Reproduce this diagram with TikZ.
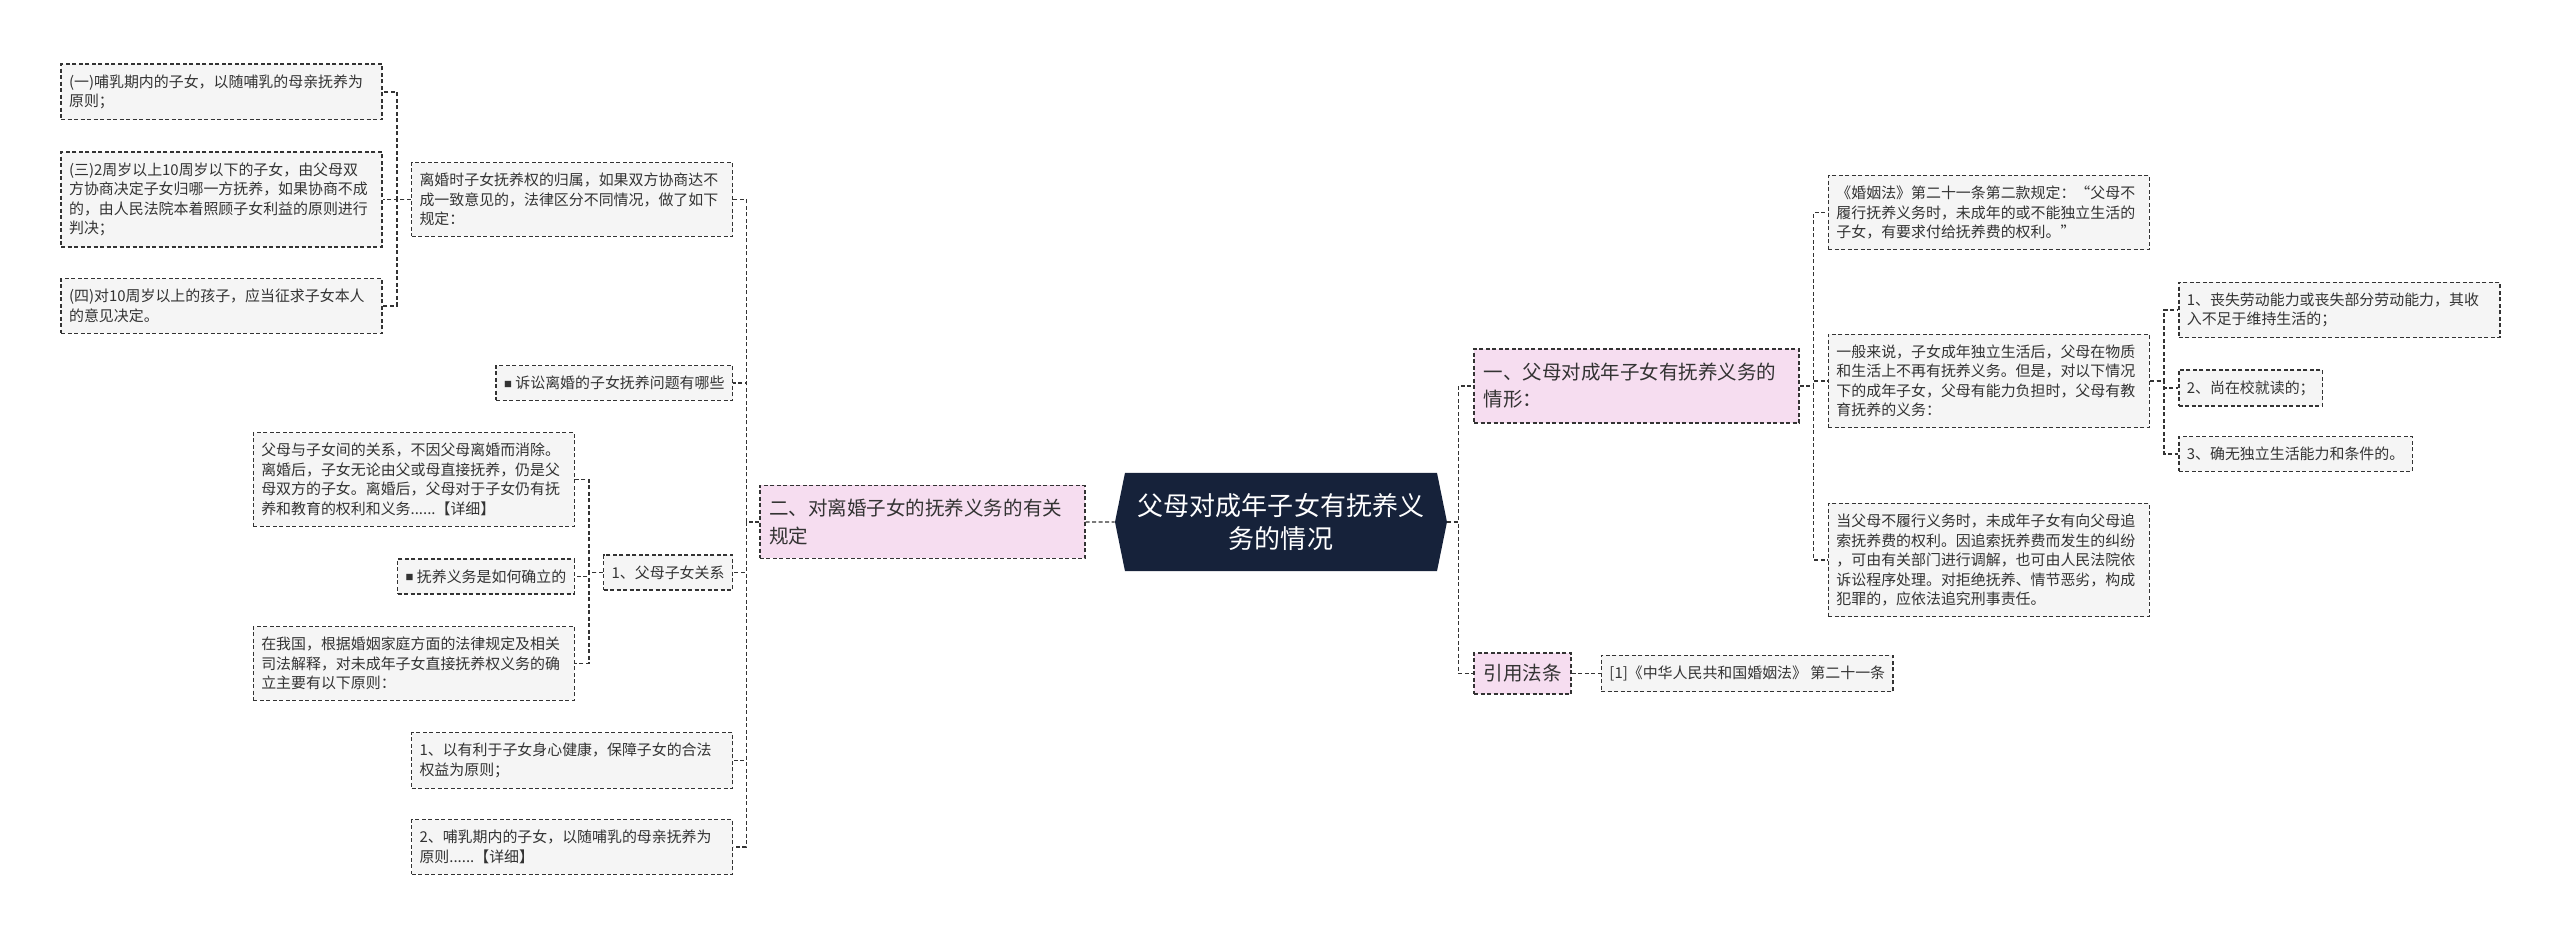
\documentclass[tikz,border=0pt]{standalone}
\usepackage{fontspec}
\setmainfont{Noto Sans CJK SC}
\usepackage{xcolor}
\usetikzlibrary{positioning,shapes.symbols}
\definecolor{mnavy}{HTML}{16223A}
\definecolor{mpink}{HTML}{F6DDF0}
\definecolor{mgray}{HTML}{F5F5F5}
\definecolor{mline}{HTML}{333333}
\newcommand{\sqmark}{\raisebox{0.1em}{\fontsize{4.5pt}{4.5pt}\selectfont ■}}

\begin{document}
\begin{tikzpicture}[
  font=\fontsize{8.5pt}{11.1pt}\selectfont,
  leaf/.style={draw=mline, fill=mgray, line width=0.28mm, dash pattern=on 0.8mm off 0.5mm,
    align=left, inner xsep=1.6mm, inner ysep=2.1mm, text=mline},
  wide/.style={leaf, text width=61mm},
  topic/.style={leaf, fill=mpink, font=\fontsize{11.1pt}{15.4pt}\selectfont, inner xsep=1.9mm},
  root/.style={shape=signal, signal to=east and west, signal pointer angle=157, fill=mnavy,
    text=white, align=center, font=\fontsize{14.8pt}{18.5pt}\selectfont,
    minimum width=66.4mm, minimum height=19.6mm, inner sep=0pt},
  conn/.style={draw=mline, line width=0.28mm, dash pattern=on 0.8mm off 0.5mm},
]
\useasboundingbox (-256.2mm,-83.8mm) rectangle (255.8mm,104.4mm);
\node[root] (root) {父母对成年子女有抚养义\\务的情况};
% right half
\node[topic, right=5.2mm of root, yshift=27.2mm, text width=61.2mm, minimum height=14.8mm] (adult)
  {一、父母对成年子女有抚养义务的\\情形：};
\node[topic, right=5.2mm of root, yshift=-30.3mm, minimum height=8.2mm] (cite) {引用法条};
\node[leaf, right=5.8mm of cite] (law) {[1]《中华人民共和国婚姻法》 第二十一条};
\node[wide, right=5.6mm of adult, yshift=34.7mm] (art21)
  {《婚姻法》第二十一条第二款规定：“父母不\\履行抚养义务时，未成年的或不能独立生活的\\子女，有要求付给抚养费的权利。”};
\node[wide, right=5.6mm of adult, yshift=1mm] (general)
  {一般来说，子女成年独立生活后，父母在物质\\和生活上不再有抚养义务。但是，对以下情况\\下的成年子女，父母有能力负担时，父母有教\\育抚养的义务：};
\node[wide, right=5.6mm of adult, yshift=-34.8mm] (claim)
  {当父母不履行义务时，未成年子女有向父母追\\索抚养费的权利。因追索抚养费而发生的纠纷\\，可由有关部门进行调解，也可由人民法院依\\诉讼程序处理。对拒绝抚养、情节恶劣，构成\\犯罪的，应依法追究刑事责任。};
\node[wide, right=5.6mm of general, yshift=14.2mm] (loss)
  {1、丧失劳动能力或丧失部分劳动能力，其收\\入不足于维持生活的；};
\node[leaf, right=5.6mm of general, yshift=-1.4mm] (school) {2、尚在校就读的；};
\node[leaf, right=5.6mm of general, yshift=-14.6mm] (noability) {3、确无独立生活能力和条件的。};
% left half
\node[topic, left=5.8mm of root, text width=61.2mm, minimum height=14.6mm] (divorce)
  {二、对离婚子女的抚养义务的有关\\规定};
\node[wide, left=5.2mm of divorce, yshift=64.5mm] (custody)
  {离婚时子女抚养权的归属，如果双方协商达不\\成一致意见的，法律区分不同情况，做了如下\\规定：};
\node[leaf, left=5.2mm of divorce, yshift=27.8mm] (suit) {\sqmark\ 诉讼离婚的子女抚养问题有哪些};
\node[leaf, left=5.2mm of divorce, yshift=-10.1mm] (rel) {1、父母子女关系};
\node[wide, left=5.2mm of divorce, yshift=-47.7mm] (health)
  {1、以有利于子女身心健康，保障子女的合法\\权益为原则；};
\node[wide, left=5.2mm of divorce, yshift=-65mm] (infant)
  {2、哺乳期内的子女，以随哺乳的母亲抚养为\\原则......【详细】};
\node[wide, left=5.6mm of custody, yshift=21.5mm] (nurse)
  {(一)哺乳期内的子女，以随哺乳的母亲抚养为\\原则；};
\node[wide, left=5.6mm of custody] (age210)
  {(三)2周岁以上10周岁以下的子女，由父母双\\方协商决定子女归哪一方抚养，如果协商不成\\的，由人民法院本着照顾子女利益的原则进行\\判决；};
\node[wide, left=5.6mm of custody, yshift=-21.3mm] (over10)
  {(四)对10周岁以上的孩子，应当征求子女本人\\的意见决定。};
\node[wide, left=5.6mm of rel, yshift=18.6mm] (bond)
  {父母与子女间的关系，不因父母离婚而消除。\\离婚后，子女无论由父或母直接抚养，仍是父\\母双方的子女。离婚后，父母对于子女仍有抚\\养和教育的权利和义务......【详细】};
\node[leaf, left=5.6mm of rel, yshift=-0.8mm] (howto) {\sqmark\ 抚养义务是如何确立的};
\node[wide, left=5.6mm of rel, yshift=-18.2mm] (rules)
  {在我国，根据婚姻家庭方面的法律规定及相关\\司法解释，对未成年子女直接抚养权义务的确\\立主要有以下原则：};
% connectors
\draw[conn] (divorce) -- (root);
\draw[conn] (cite) -- (law);
\foreach \n in {adult,cite} \draw[conn] (root.east) -- ++(2.2mm,0) |- (\n.west);
\foreach \n in {art21,general,claim} \draw[conn] (adult.east) -- ++(2.8mm,0) |- (\n.west);
\foreach \n in {loss,school,noability} \draw[conn] (general.east) -- ++(2.8mm,0) |- (\n.west);
\foreach \n in {custody,suit,rel,health,infant} \draw[conn] (divorce.west) -- ++(-2.6mm,0) |- (\n.east);
\foreach \n in {nurse,age210,over10} \draw[conn] (custody.west) -- ++(-2.8mm,0) |- (\n.east);
\foreach \n in {bond,howto,rules} \draw[conn] (rel.west) -- ++(-2.8mm,0) |- (\n.east);
\end{tikzpicture}
\end{document}
